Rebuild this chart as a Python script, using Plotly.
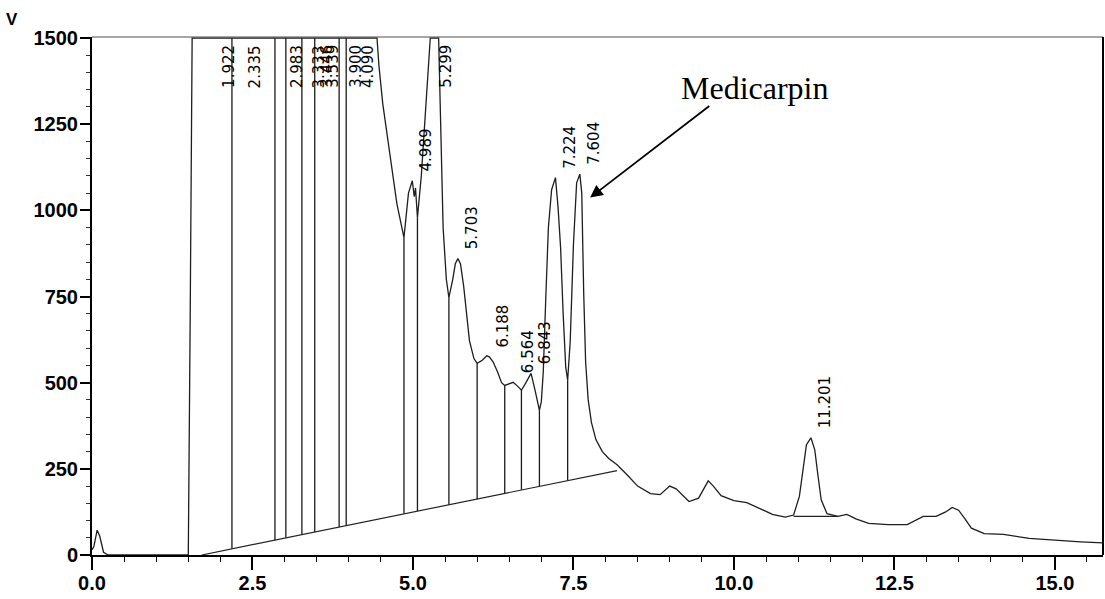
import plotly.graph_objects as go

# ---- chromatogram trace (retention time in min, detector signal) ----
rt_trace = [0.00, 0.03, 0.08, 0.12, 0.18, 0.25, 1.00, 1.50, 1.53, 1.56, 2.50, 3.50, 4.40,
            4.44, 4.47, 4.53, 4.64, 4.75, 4.86, 4.93, 4.99, 5.02, 5.04, 5.07, 5.13, 5.20,
            5.27, 5.40, 5.43, 5.47, 5.52, 5.56, 5.62, 5.66, 5.70, 5.74, 5.79, 5.84, 5.88, 5.95,
            6.00, 6.08, 6.15, 6.19, 6.25, 6.32, 6.38, 6.43, 6.50, 6.56, 6.63, 6.69, 6.76, 6.84,
            6.90, 6.97, 7.00, 7.03, 7.07, 7.11, 7.16, 7.22, 7.26, 7.30, 7.34, 7.38, 7.41,
            7.45, 7.50, 7.55, 7.60, 7.63, 7.66, 7.69, 7.73, 7.78, 7.85, 7.95, 8.05, 8.18,
            8.35, 8.50, 8.70,
            8.85, 9.00, 9.10, 9.30, 9.45, 9.60, 9.68, 9.80, 10.00, 10.20, 10.40, 10.60,
            10.80, 10.93, 11.02, 11.08, 11.13, 11.20, 11.26, 11.31, 11.36, 11.45, 11.62, 11.76,
            11.90, 12.10, 12.40, 12.70, 12.95, 13.15, 13.30, 13.40, 13.50, 13.60, 13.70, 13.90,
            14.20, 14.60, 15.00, 15.40, 15.75]
signal = [15, 25, 72, 55, 8, 0, 0, 0, 700, 1500, 1500, 1500, 1500,
          1500, 1420, 1309, 1164, 1019, 921, 1050, 1086, 1040, 1065, 979, 1100, 1300,
          1500, 1500, 1250, 950, 800, 747, 800, 845, 860, 845, 780, 680, 622, 570,
          556, 565, 578, 575, 560, 530, 500, 492, 497, 501, 490, 478, 500, 527,
          480, 420, 445, 530, 750, 950, 1060, 1095, 1010, 892, 700, 545, 507,
          620, 900, 1080, 1105, 1050, 760, 560, 450, 385, 335, 300, 280, 262,
          230, 200, 178,
          175, 200, 192, 155, 165, 215, 200, 172, 158, 152, 135, 118,
          110, 116, 170, 260, 320, 340, 305, 230, 160, 120, 112, 118,
          105, 92, 88, 88, 112, 112, 125, 138, 130, 105, 78, 62,
          60, 48, 42, 38, 35]

# ---- integration: sloped common baseline and valley drop lines ----
base_rt = [1.71, 8.18]
base_val = [0, 245]

drop_rt = [2.18, 2.85, 3.02, 3.27, 3.47, 3.85, 3.96, 4.86, 5.07, 5.56, 6.00, 6.43, 6.69, 6.97, 7.41]
drop_top = [1500, 1500, 1500, 1500, 1500, 1500, 1500, 921, 979, 747, 556, 492, 478, 420, 507]
drop_bottom = [18, 43, 50, 59, 67, 81, 85, 120, 128, 146, 162, 179, 189, 199, 216]

peak2_base_rt = [10.93, 11.62]
peak2_base_val = [112, 112]

# ---- labelled peaks ----
peak_rt = [1.922, 2.335, 2.983, 3.333, 3.446, 3.539, 3.900, 4.090, 5.299,
           4.989, 5.703, 6.188, 6.564, 6.843, 7.224, 7.604, 11.201]
peak_height = [1500, 1500, 1500, 1500, 1500, 1500, 1500, 1500, 1500,
               1086, 860, 575, 501, 527, 1095, 1105, 340]
peak_text = ["1.922", "2.335", "2.983", "3.333", "3.446", "3.539", "3.900", "4.090", "5.299",
             "4.989", "5.703", "6.188", "6.564", "6.843", "7.224", "7.604", "11.201"]

x_ticks = [0.0, 2.5, 5.0, 7.5, 10.0, 12.5, 15.0]
y_ticks = [0, 250, 500, 750, 1000, 1250, 1500]

W, H = 1105, 599
ML, MR, MT, MB = 92, 2, 37, 44
X_MAX = 15.75
Y_MAX = 1503

fig = go.Figure()

# drop lines from the integration baseline up to the trace
dx, dy = [], []
for t, top, bot in zip(drop_rt, drop_top, drop_bottom):
    dx += [t, t, None]
    dy += [bot, top, None]
fig.add_trace(go.Scatter(x=dx, y=dy, mode="lines",
                         line=dict(color="#1a1a1a", width=1.3), hoverinfo="skip"))

# integration baselines
fig.add_trace(go.Scatter(x=base_rt, y=base_val, mode="lines",
                         line=dict(color="#222222", width=1.2), hoverinfo="skip"))
fig.add_trace(go.Scatter(x=peak2_base_rt, y=peak2_base_val, mode="lines",
                         line=dict(color="#222222", width=1.2), hoverinfo="skip"))

# detector trace
fig.add_trace(go.Scatter(x=rt_trace, y=signal, mode="lines",
                         line=dict(color="#1e1e1e", width=1.3), hoverinfo="skip"))

annotations = []
label_font = dict(family="DejaVu Sans, Verdana, sans-serif", size=15, color="black")
for t, h, txt in zip(peak_rt, peak_height, peak_text):
    if h >= 1500:
        annotations.append(dict(x=t, y=1500, xref="x", yref="y", text=txt, showarrow=False,
                                textangle=-90, xanchor="center", yanchor="top",
                                xshift=13, yshift=-5, font=label_font))
    else:
        annotations.append(dict(x=t, y=h, xref="x", yref="y", text=txt, showarrow=False,
                                textangle=-90, xanchor="center", yanchor="bottom",
                                xshift=14, yshift=7, font=label_font))

# compound call-out
annotations.append(dict(x=10.33, y=1355, xref="x", yref="y", text="Medicarpin",
                        showarrow=False, xanchor="center", yanchor="middle",
                        font=dict(family="Liberation Serif, Times New Roman, serif",
                                  size=32, color="black")))
annotations.append(dict(x=7.76, y=1037, xref="x", yref="y", text="",
                        showarrow=True, axref="x", ayref="y", ax=9.64, ay=1306,
                        arrowhead=2, arrowsize=1.4, arrowwidth=1.8, arrowcolor="black",
                        standoff=0, startstandoff=0))

# unit label of the signal axis
annotations.append(dict(x=(12 - ML) / (W - ML - MR), y=1 + (MT - 19) / (H - MT - MB),
                        xref="paper", yref="paper", text="V", showarrow=False,
                        xanchor="center", yanchor="middle",
                        font=dict(family="Liberation Sans, Arial, sans-serif", size=17,
                                  color="black", weight="bold")))

tick_font = dict(family="Liberation Sans, Arial, sans-serif", size=20,
                 color="black", weight="bold")

fig.update_layout(
    width=W, height=H,
    margin=dict(l=ML, r=MR, t=MT, b=MB, pad=0),
    paper_bgcolor="white", plot_bgcolor="white",
    showlegend=False,
    annotations=annotations,
    xaxis=dict(range=[0, X_MAX], tickvals=x_ticks,
               ticktext=[f"{v:.1f}" for v in x_ticks],
               showgrid=False, zeroline=False,
               showline=True, linecolor="black", linewidth=1.5,
               ticks="outside", ticklen=13, tickwidth=1.5, tickcolor="black",
               ticklabelstandoff=-4,
               tickfont=tick_font,
               minor=dict(dtick=0.5, tick0=0, ticks="outside", ticklen=5,
                          tickwidth=1.2, tickcolor="black", showgrid=False)),
    yaxis=dict(range=[0, Y_MAX], tickvals=y_ticks,
               ticktext=[str(v) for v in y_ticks],
               showgrid=False, zeroline=False,
               showline=True, linecolor="black", linewidth=2,
               ticks="outside", ticklen=10, tickwidth=1.5, tickcolor="black",
               ticklabelstandoff=-2,
               tickfont=tick_font,
               minor=dict(dtick=50, tick0=0, ticks="outside", ticklen=4,
                          tickwidth=1, tickcolor="#333333", showgrid=False)),
    shapes=[
        # upper frame edge
        dict(type="line", xref="paper", yref="paper", x0=0, x1=1, y0=1, y1=1,
             line=dict(color="#8a8a8a", width=1.3), layer="below"),
        # right frame edge
        dict(type="line", xref="paper", yref="paper", x0=1, x1=1, y0=0, y1=1,
             line=dict(color="black", width=2)),
    ],
)

fig.write_html("out.html")
